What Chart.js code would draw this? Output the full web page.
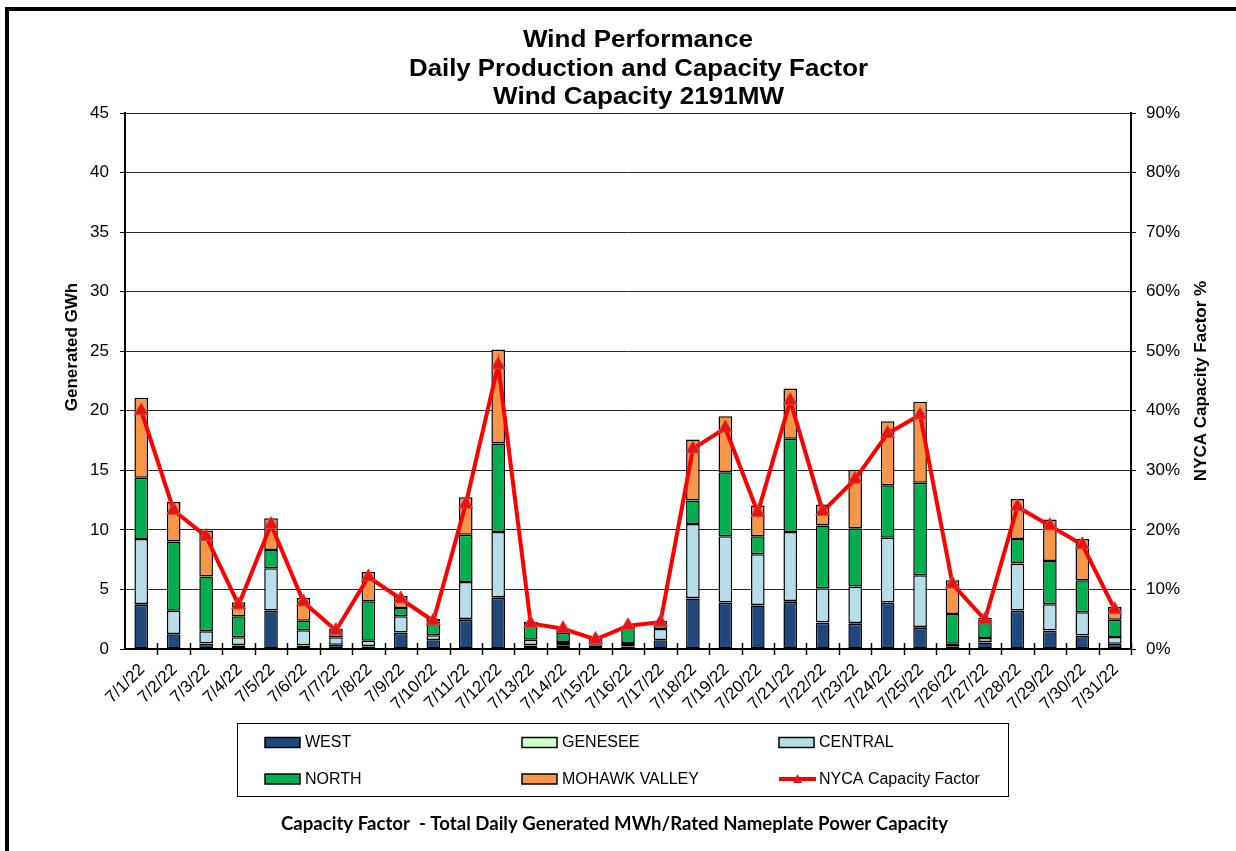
<!DOCTYPE html>
<html><head><meta charset="utf-8">
<script src="https://cdn.jsdelivr.net/npm/chart.js@4.4.1/dist/chart.umd.min.js"></script>
<style>html,body{margin:0;padding:0;background:#fff;overflow:hidden}</style>
</head><body>
<canvas id="c" width="1236" height="851"></canvas>
<script>
const categories = ["7/1/22","7/2/22","7/3/22","7/4/22","7/5/22","7/6/22","7/7/22","7/8/22","7/9/22","7/10/22","7/11/22","7/12/22","7/13/22","7/14/22","7/15/22","7/16/22","7/17/22","7/18/22","7/19/22","7/20/22","7/21/22","7/22/22","7/23/22","7/24/22","7/25/22","7/26/22","7/27/22","7/28/22","7/29/22","7/30/22","7/31/22"];
const west    = [3.72,1.23,0.45,0.30,3.19,0.28,0.34,0.22,1.34,0.73,2.46,4.28,0.30,0.28,0.25,0.22,0.73,4.23,3.86,3.66,3.97,2.21,2.13,3.86,1.79,0.17,0.55,3.19,1.54,1.12,0.42];
const genesee = [0.05,0.03,0.04,0.03,0.04,0.03,0.02,0.03,0.04,0.03,0.05,0.06,0.03,0.05,0.02,0.03,0.03,0.05,0.05,0.04,0.06,0.04,0.05,0.05,0.05,0.02,0.03,0.05,0.04,0.04,0.03];
const central = [5.47,1.96,0.99,0.65,3.55,1.26,0.62,0.45,1.36,0.39,3.12,5.49,0.45,0.26,0.09,0.25,0.92,6.22,5.55,4.25,5.80,2.84,3.06,5.44,4.35,0.26,0.34,3.93,2.17,1.92,0.56];
const north   = [5.13,5.80,4.60,1.76,1.54,0.81,0.36,3.30,0.70,1.17,3.97,7.42,1.40,0.75,0.47,1.35,0.52,1.96,5.38,1.51,7.82,5.27,4.89,4.40,7.76,2.49,1.54,2.07,3.64,2.69,1.45];
const mohawk  = [6.72,3.33,3.86,1.18,2.66,1.90,0.37,2.47,1.04,0.20,3.14,7.90,0.11,0.39,0.04,0.11,0.18,5.13,4.71,2.58,4.22,1.77,4.91,5.38,6.81,2.83,0.17,3.36,3.48,3.47,1.07];
const capacityFactor = [40.0,23.3,18.9,7.4,20.9,7.9,3.1,12.1,8.4,4.7,24.3,47.7,4.3,3.4,1.6,3.9,4.5,33.6,37.1,22.9,41.7,23.1,28.5,36.2,39.3,10.9,4.9,23.9,20.7,17.5,6.6];
const leftTicks = {min:0, max:45, step:5};
const rightTicks = {min:0, max:90, step:10};
const titleLines = ["Wind Performance","Daily Production and Capacity Factor","Wind Capacity 2191MW"];
const leftAxisTitle = "Generated GWh";
const rightAxisTitle = "NYCA Capacity Factor %";
const footnote = "Capacity Factor  - Total Daily Generated MWh/Rated Nameplate Power Capacity";

const F = "'Liberation Sans', Arial, sans-serif";
const colors = {west:'#1F497D', genesee:'#CCFFCC', central:'#B7DDE8', north:'#00B050', mohawk:'#F79646', cf:'#FF0000'};

function barDs(label, data, color){
  return {type:'bar', label, data, backgroundColor:color, borderColor:'#000', borderWidth:1.5,
    borderSkipped:false, barPercentage:0.42, categoryPercentage:1.0, yAxisID:'y', stack:'s', order:1};
}

function fitText(ctx, text, cx, y, width){
  const w = ctx.measureText(text).width;
  ctx.save();
  ctx.translate(cx, y);
  ctx.scale(width / w, 1);
  ctx.textAlign = 'center';
  ctx.fillText(text, 0, 0);
  ctx.restore();
}

const decor = {
  id:'decor',
  afterDraw(chart){
    const ctx = chart.ctx;
    const xs = chart.scales.x;
    const area = chart.chartArea;
    ctx.save();
    ctx.fillStyle = '#000';
    // frame
    ctx.fillRect(5, 7, 1231, 4);
    ctx.fillRect(5, 7, 4, 844);
    // titles
    ctx.font = "bold 24px " + F;
    ctx.textBaseline = 'alphabetic';
    fitText(ctx, titleLines[0], 638, 47, 230);
    fitText(ctx, titleLines[1], 638.5, 76, 459);
    fitText(ctx, titleLines[2], 638.5, 104, 291);
    // axis titles
    ctx.font = "bold 17px " + F;
    ctx.textAlign = 'center';
    ctx.textBaseline = 'middle';
    ctx.save(); ctx.translate(72, 347); ctx.rotate(-Math.PI/2); ctx.fillText(leftAxisTitle, 0, 0); ctx.restore();
    ctx.save(); ctx.translate(1201, 381); ctx.rotate(-Math.PI/2); ctx.fillText(rightAxisTitle, 0, 0); ctx.restore();
    // x category tick marks
    ctx.strokeStyle = '#000'; ctx.lineWidth = 1.5;
    const n = categories.length;
    const cw = (area.right - area.left) / n;
    for (let i = 1; i <= n; i++) {
      const x = Math.round(area.left + i*cw) + 0.5;
      ctx.beginPath(); ctx.moveTo(x, area.bottom - 6); ctx.lineTo(x, area.bottom + 6); ctx.stroke();
    }
    // x labels
    ctx.font = "17px " + F;
    ctx.textAlign = 'right';
    ctx.textBaseline = 'middle';
    categories.forEach((c, i) => {
      const x = xs.getPixelForValue(i);
      ctx.save(); ctx.translate(x + 1, 667); ctx.rotate(-Math.PI/4); ctx.fillText(c, 0, 0); ctx.restore();
    });
    // legend
    ctx.lineWidth = 1;
    ctx.strokeStyle = '#000';
    ctx.strokeRect(237.5, 723.5, 771, 73);
    const ds = chart.data.datasets;
    const cols = [265, 522, 779];
    const rows = [742.5, 779];
    ctx.font = "16px " + F;
    ctx.textAlign = 'left';
    ctx.textBaseline = 'middle';
    ds.forEach((d, i) => {
      const cx = cols[i % 3], cy = rows[Math.floor(i / 3)];
      if (d.type === 'bar') {
        ctx.fillStyle = d.backgroundColor;
        ctx.fillRect(cx, cy - 5, 35, 10);
        ctx.lineWidth = 1.5; ctx.strokeStyle = '#000';
        ctx.strokeRect(cx, cy - 5, 35, 10);
      } else {
        ctx.strokeStyle = colors.cf; ctx.lineWidth = 4;
        ctx.beginPath(); ctx.moveTo(cx, cy); ctx.lineTo(cx + 37, cy); ctx.stroke();
        ctx.fillStyle = '#E8141B';
        ctx.beginPath(); ctx.moveTo(cx + 18.5, cy - 5); ctx.lineTo(cx + 23, cy + 4); ctx.lineTo(cx + 14, cy + 4); ctx.closePath(); ctx.fill();
      }
      ctx.fillStyle = '#000';
      ctx.fillText(d.label, cx + 40, cy + 0.5);
    });
    // footnote
    ctx.font = "bold 18px Lato, 'Open Sans', sans-serif";
    ctx.textBaseline = 'alphabetic';
    fitText(ctx, footnote, 614.5, 830, 667);
    ctx.restore();
  }
};

new Chart(document.getElementById('c'), {
  data: {
    labels: categories,
    datasets: [
      barDs('WEST', west, colors.west),
      barDs('GENESEE', genesee, colors.genesee),
      barDs('CENTRAL', central, colors.central),
      barDs('NORTH', north, colors.north),
      barDs('MOHAWK VALLEY', mohawk, colors.mohawk),
      {type:'line', label:'NYCA Capacity Factor', data:capacityFactor, yAxisID:'y1', order:0,
       borderColor:colors.cf, borderWidth:4, tension:0, pointStyle:'triangle', pointRadius:8,
       pointBackgroundColor:'#EE1111', pointBorderColor:'#C0504D', pointBorderWidth:1}
    ]
  },
  options: {
    responsive:false, animation:false, devicePixelRatio:1,
    layout:{padding:{top:113, left:0, right:0, bottom:0}},
    plugins:{legend:{display:false}, title:{display:false}, tooltip:{enabled:false}},
    scales:{
      x:{type:'category', stacked:true, offset:true, ticks:{display:false}, grid:{display:false},
         border:{display:true, color:'#000', width:2}, afterFit(s){ s.height = 202; }},
      y:{position:'left', stacked:true, min:leftTicks.min, max:leftTicks.max,
         ticks:{stepSize:leftTicks.step, padding:11, color:'#000', font:{family:F, size:17}, autoSkip:false},
         grid:{color:'#2b2b2b', lineWidth:1, tickLength:5, tickColor:'#000'},
         border:{display:true, color:'#000', width:2}, afterFit(s){ s.width = 125; }},
      y1:{position:'right', min:rightTicks.min, max:rightTicks.max,
         ticks:{stepSize:rightTicks.step, padding:10, color:'#000', font:{family:F, size:17}, autoSkip:false, callback:v => v + '%'},
         grid:{drawOnChartArea:false, tickLength:5, tickColor:'#000'},
         border:{display:true, color:'#000', width:2}, afterFit(s){ s.width = 105; }}
    }
  },
  plugins:[decor]
});
</script>
</body></html>
